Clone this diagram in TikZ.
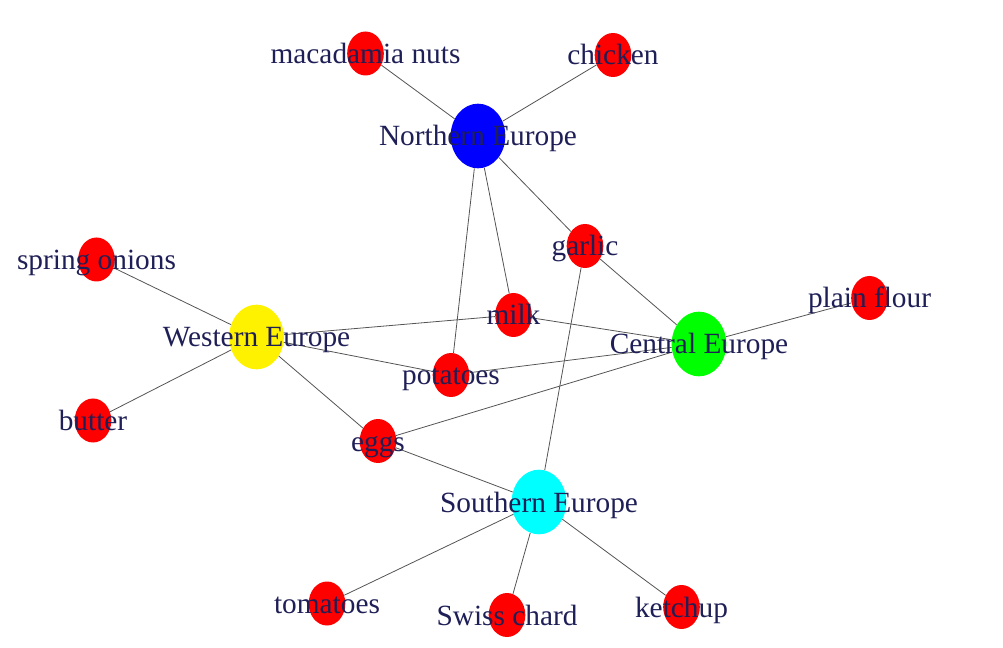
\documentclass[tikz,border=0pt]{standalone}
\usepackage{fontspec}
\setmainfont{Liberation Serif}
\definecolor{Ink}{rgb}{0.12,0.12,0.34}
\definecolor{Wire}{rgb}{0.33,0.33,0.33}
\definecolor{Aqua}{rgb}{0,1,1}
\definecolor{Lime}{rgb}{0,1,0}
\usetikzlibrary{shapes.geometric}

\tikzset{
  hub/.style={ellipse, inner sep=0pt, minimum width=41pt, minimum height=48.5pt},
  food/.style={ellipse, inner sep=0pt, fill=red, minimum width=27.5pt, minimum height=33pt},
  wire/.style={Wire, line width=0.6pt},
  tag/.style={text=Ink, inner sep=0pt, anchor=base, yshift=-7.5pt, font=\fontsize{22}{26}\selectfont}
}

\begin{document}
\begin{tikzpicture}[x=0.75pt,y=-0.75pt]
\useasboundingbox (0,0) rectangle (1003,648);
%regions
\node[hub, fill=blue] (north) at (478,136) {};
\node[hub, fill=yellow] (west) at (256.5,337) {};
\node[hub, fill=Lime] (central) at (699,344) {};
\node[hub, fill=Aqua] (south) at (539,502) {};
%ingredients
\node[food] (nuts) at (365.5,53.5) {};
\node[food] (chicken) at (613,55) {};
\node[food] (garlic) at (585,246) {};
\node[food] (onions) at (96.5,259.5) {};
\node[food] (milk) at (513.5,315) {};
\node[food] (flour) at (869.5,298) {};
\node[food] (potatoes) at (451,375) {};
\node[food] (butter) at (93,420.5) {};
\node[food] (eggs) at (378,441) {};
\node[food] (tomatoes) at (327,603.5) {};
\node[food] (chard) at (507,615) {};
\node[food] (ketchup) at (681.5,607) {};
%edges
\draw[wire] (north) -- (nuts);
\draw[wire] (north) -- (chicken);
\draw[wire] (north) -- (garlic);
\draw[wire] (north) -- (milk);
\draw[wire] (north) -- (potatoes);
\draw[wire] (west) -- (onions);
\draw[wire] (west) -- (butter);
\draw[wire] (west) -- (milk);
\draw[wire] (west) -- (potatoes);
\draw[wire] (west) -- (eggs);
\draw[wire] (central) -- (garlic);
\draw[wire] (central) -- (milk);
\draw[wire] (central) -- (potatoes);
\draw[wire] (central) -- (eggs);
\draw[wire] (central) -- (flour);
\draw[wire] (south) -- (garlic);
\draw[wire] (south) -- (eggs);
\draw[wire] (south) -- (tomatoes);
\draw[wire] (south) -- (chard);
\draw[wire] (south) -- (ketchup);
%labels
\node[tag] (tnorth) at (north) {Northern Europe};
\node[tag] (twest) at (west) {Western Europe};
\node[tag] (tcentral) at (central) {Central Europe};
\node[tag] (tsouth) at (south) {Southern Europe};
\node[tag] (tnuts) at (nuts) {macadamia nuts};
\node[tag] (tchicken) at (chicken) {chicken};
\node[tag] (tgarlic) at (garlic) {garlic};
\node[tag] (tonions) at (onions) {spring onions};
\node[tag] (tmilk) at (milk) {milk};
\node[tag] (tflour) at (flour) {plain flour};
\node[tag] (tpotatoes) at (potatoes) {potatoes};
\node[tag] (tbutter) at (butter) {butter};
\node[tag] (teggs) at (eggs) {eggs};
\node[tag] (ttomatoes) at (tomatoes) {tomatoes};
\node[tag] (tchard) at (chard) {Swiss chard};
\node[tag] (tketchup) at (ketchup) {ketchup};
\end{tikzpicture}
\end{document}
